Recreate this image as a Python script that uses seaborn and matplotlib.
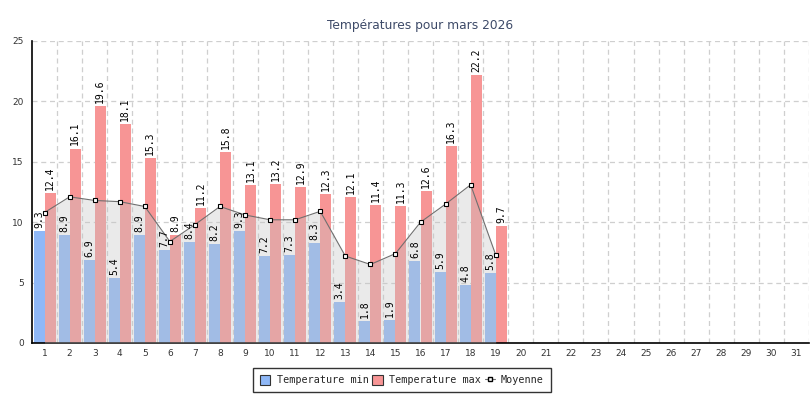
import numpy as np
import pandas as pd
import seaborn as sns
import matplotlib.pyplot as plt
from matplotlib.patches import Patch
from matplotlib.lines import Line2D
from matplotlib.ticker import MultipleLocator

jours = list(range(1, 32))
jours_mesures = list(range(1, 20))
temp_min = [9.3, 8.9, 6.9, 5.4, 8.9, 7.7, 8.4, 8.2, 9.3, 7.2, 7.3, 8.3, 3.4, 1.8, 1.9, 6.8, 5.9, 4.8, 5.8]
temp_max = [12.4, 16.1, 19.6, 18.1, 15.3, 8.9, 11.2, 15.8, 13.1, 13.2, 12.9, 12.3, 12.1, 11.4, 11.3, 12.6, 16.3, 22.2, 9.7]
moyenne = [10.8, 12.1, 11.8, 11.7, 11.3, 8.4, 9.8, 11.3, 10.6, 10.2, 10.2, 10.9, 7.2, 6.5, 7.4, 10.0, 11.5, 13.1, 7.3]
series = ["Temperature min", "Temperature max"]

c_min = "#8fb8f7"
c_max = "#f79595"

df = pd.DataFrame({
    "jour": jours_mesures * 2,
    "serie": [series[0]] * len(temp_min) + [series[1]] * len(temp_max),
    "temp": temp_min + temp_max,
})

sns.set_style("white")
plt.rcParams["font.family"] = ["DejaVu Sans"]

fig = plt.figure(figsize=(8.1, 4.0), dpi=100)
ax = fig.add_axes([32 / 810, 1 - 343 / 400, 777 / 810, 302 / 400])

sns.barplot(data=df, x="jour", y="temp", hue="serie", order=jours, hue_order=series,
            palette=[c_min, c_max], width=0.88, gap=0, saturation=1, linewidth=0,
            legend=False, ax=ax, zorder=2)

pos = np.arange(len(jours_mesures))
ax.fill_between(pos, 0, moyenne, color="#c4c4c4", alpha=0.34, linewidth=0, zorder=3)
sns.lineplot(x=pos, y=moyenne, color="#707070", linewidth=0.8, marker="s", markersize=3,
             markerfacecolor="white", markeredgecolor="black", markeredgewidth=0.8,
             ax=ax, zorder=4)

mono = "DejaVu Sans Mono"
for i, v in enumerate(temp_min):
    ax.text(i - 0.22, v + 0.25, f"{v}", rotation=90, ha="center", va="bottom",
            fontsize=7, family=mono, color="black", zorder=5)
for i, v in enumerate(temp_max):
    ax.text(i + 0.22, v + 0.25, f"{v}", rotation=90, ha="center", va="bottom",
            fontsize=7, family=mono, color="black", zorder=5)

ax.set_xlim(-0.5, 30.5)
ax.set_ylim(0, 25)
ax.set_xticks(np.arange(31))
ax.set_xticklabels([str(j) for j in jours])
ax.set_xticks(np.arange(31) + 0.5, minor=True)
ax.yaxis.set_major_locator(MultipleLocator(5))
ax.yaxis.set_minor_locator(MultipleLocator(1.25))
ax.tick_params(axis="x", which="major", length=0, pad=4, labelsize=6.5, labelcolor="#333333")
ax.tick_params(axis="x", which="minor", direction="in", length=4, width=1, color="black")
ax.tick_params(axis="y", which="major", direction="in", length=5, width=1, pad=6,
               labelsize=6.5, labelcolor="#333333", color="black")
ax.tick_params(axis="y", which="minor", direction="in", length=3, width=1, color="black")
ax.xaxis.grid(True, which="minor", linestyle=(0, (4, 3)), color="#cfcfcf", linewidth=0.9)
ax.yaxis.grid(True, which="major", linestyle=(0, (4, 3)), color="#cfcfcf", linewidth=0.9)
ax.set_axisbelow(True)
ax.set_xlabel("")
ax.set_ylabel("")
for s in ["top", "right"]:
    ax.spines[s].set_visible(False)
for s in ["left", "bottom"]:
    ax.spines[s].set_color("black")
    ax.spines[s].set_linewidth(1.2)

fig.text(420 / 810, 1 - 26 / 400, "Températures pour mars 2026", ha="center", va="center",
         fontsize=8.8, color="#3d4a68")

handles = [
    Patch(facecolor=c_min, edgecolor="#333333", linewidth=0.8),
    Patch(facecolor=c_max, edgecolor="#333333", linewidth=0.8),
    Line2D([0], [0], color="#707070", linewidth=0.8, marker="s", markersize=3,
           markerfacecolor="white", markeredgecolor="black"),
]
leg = fig.legend(handles, series + ["Moyenne"], loc="center", bbox_to_anchor=(402 / 810, 1 - 380 / 400),
                 ncol=3, frameon=True, fancybox=False, prop={"family": mono, "size": 7.3},
                 handlelength=1.0, handleheight=1.1, handletextpad=0.6, columnspacing=0.4,
                 borderpad=0.7)
leg.get_frame().set_edgecolor("black")
leg.get_frame().set_linewidth(1.0)

fig.savefig("out.png", dpi=100)
